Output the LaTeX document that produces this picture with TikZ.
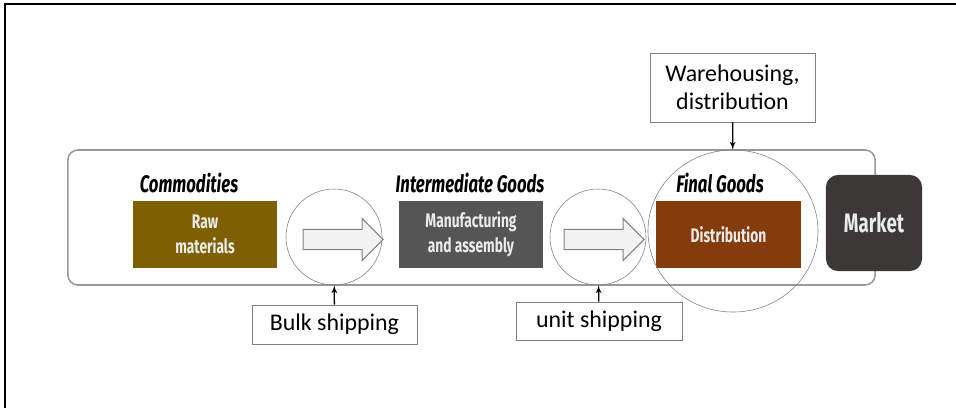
\documentclass[tikz,border=0pt]{standalone}
\usepackage{fontspec}
\setmainfont{Carlito}
\newfontfamily\condfont[FakeStretch=0.7]{Fira Sans}
\usepackage{xcolor}
\usepackage{tikz}
\usetikzlibrary{shapes,arrows}
\definecolor{rawbrown}{HTML}{7F6000}
\definecolor{mfggrey}{HTML}{555555}
\definecolor{distbrown}{HTML}{843C0C}
\definecolor{marketgrey}{HTML}{3B3838}
\definecolor{edgegrey}{HTML}{808080}
\tikzstyle{stage} = [rectangle, text=white!92!black, align=center, minimum width=3.6cm, minimum height=1.675cm, font=\condfont\bfseries\fontsize{14}{18}\selectfont]
\tikzstyle{title} = [font=\condfont\bfseries\itshape\fontsize{17}{19}\selectfont]
\tikzstyle{hub} = [circle, draw=edgegrey, minimum size=2.4cm, inner sep=0]
\tikzstyle{move} = [single arrow, draw=edgegrey, line width=0.8pt, fill=gray!10, minimum height=2cm, single arrow head extend=0.27cm, inner sep=0, text height=0.24cm, text depth=0.24cm]
\tikzstyle{note} = [rectangle, draw=edgegrey, align=center, font=\fontsize{17}{20}\selectfont]
\tikzstyle{line} = [draw, -latex', line width=0.9pt]

\begin{document}
\begin{tikzpicture}[x=0.025cm, y=-0.025cm]
\useasboundingbox (0,0) rectangle (956,408);
\draw [line width=1.4pt] (5,408) -- (5,4) -- (956,4);
\node [draw=edgegrey!80, line width=1.1pt, rounded corners=0.25cm, minimum width=20.175cm, minimum height=3.375cm] (chain) at (471.5,217.5) {};
% stages
\node [stage, fill=rawbrown] (raw) at (205,234.5) {Raw\\materials};
\node [stage, fill=mfggrey] (mfg) at (471,234.5) {Manufacturing\\and assembly};
\node [stage, fill=distbrown, minimum width=3.625cm] (dist) at (728.5,234.5) {Distribution};
\node [stage, fill=marketgrey, rounded corners=0.3cm, minimum width=2.4cm, minimum height=2.4cm, font=\condfont\bfseries\fontsize{19}{22}\selectfont] (market) at (874,223) {Market};
\node [title] (commod) at (189,183) {Commodities};
\node [title] (interm) at (470,183) {Intermediate Goods};
\node [title] (final) at (720,183) {Final Goods};
% transport
\node [hub] (hub1) at (334,237) {};
\node [hub] (hub2) at (598,237) {};
\node [ellipse, draw=edgegrey, minimum width=4.25cm, minimum height=4.05cm] (hub3) at (733,231) {};
\node [move] (move1) at (338,239.5) {};
\node [move] (move2) at (599,239.5) {};
\node [note, minimum width=4.125cm, minimum height=0.975cm] (bulk) at (334.5,324.5) {Bulk shipping};
\node [note, minimum width=4.15cm, minimum height=0.95cm] (unit) at (599,321) {unit shipping};
\node [note, minimum width=4.125cm, minimum height=1.725cm] (ware) at (732.5,87.5) {Warehousing,\\distribution};
\path [line] (bulk) -- (hub1);
\path [line] (unit) -- (hub2);
\path [line] (ware) -- (hub3);
\end{tikzpicture}
\end{document}
